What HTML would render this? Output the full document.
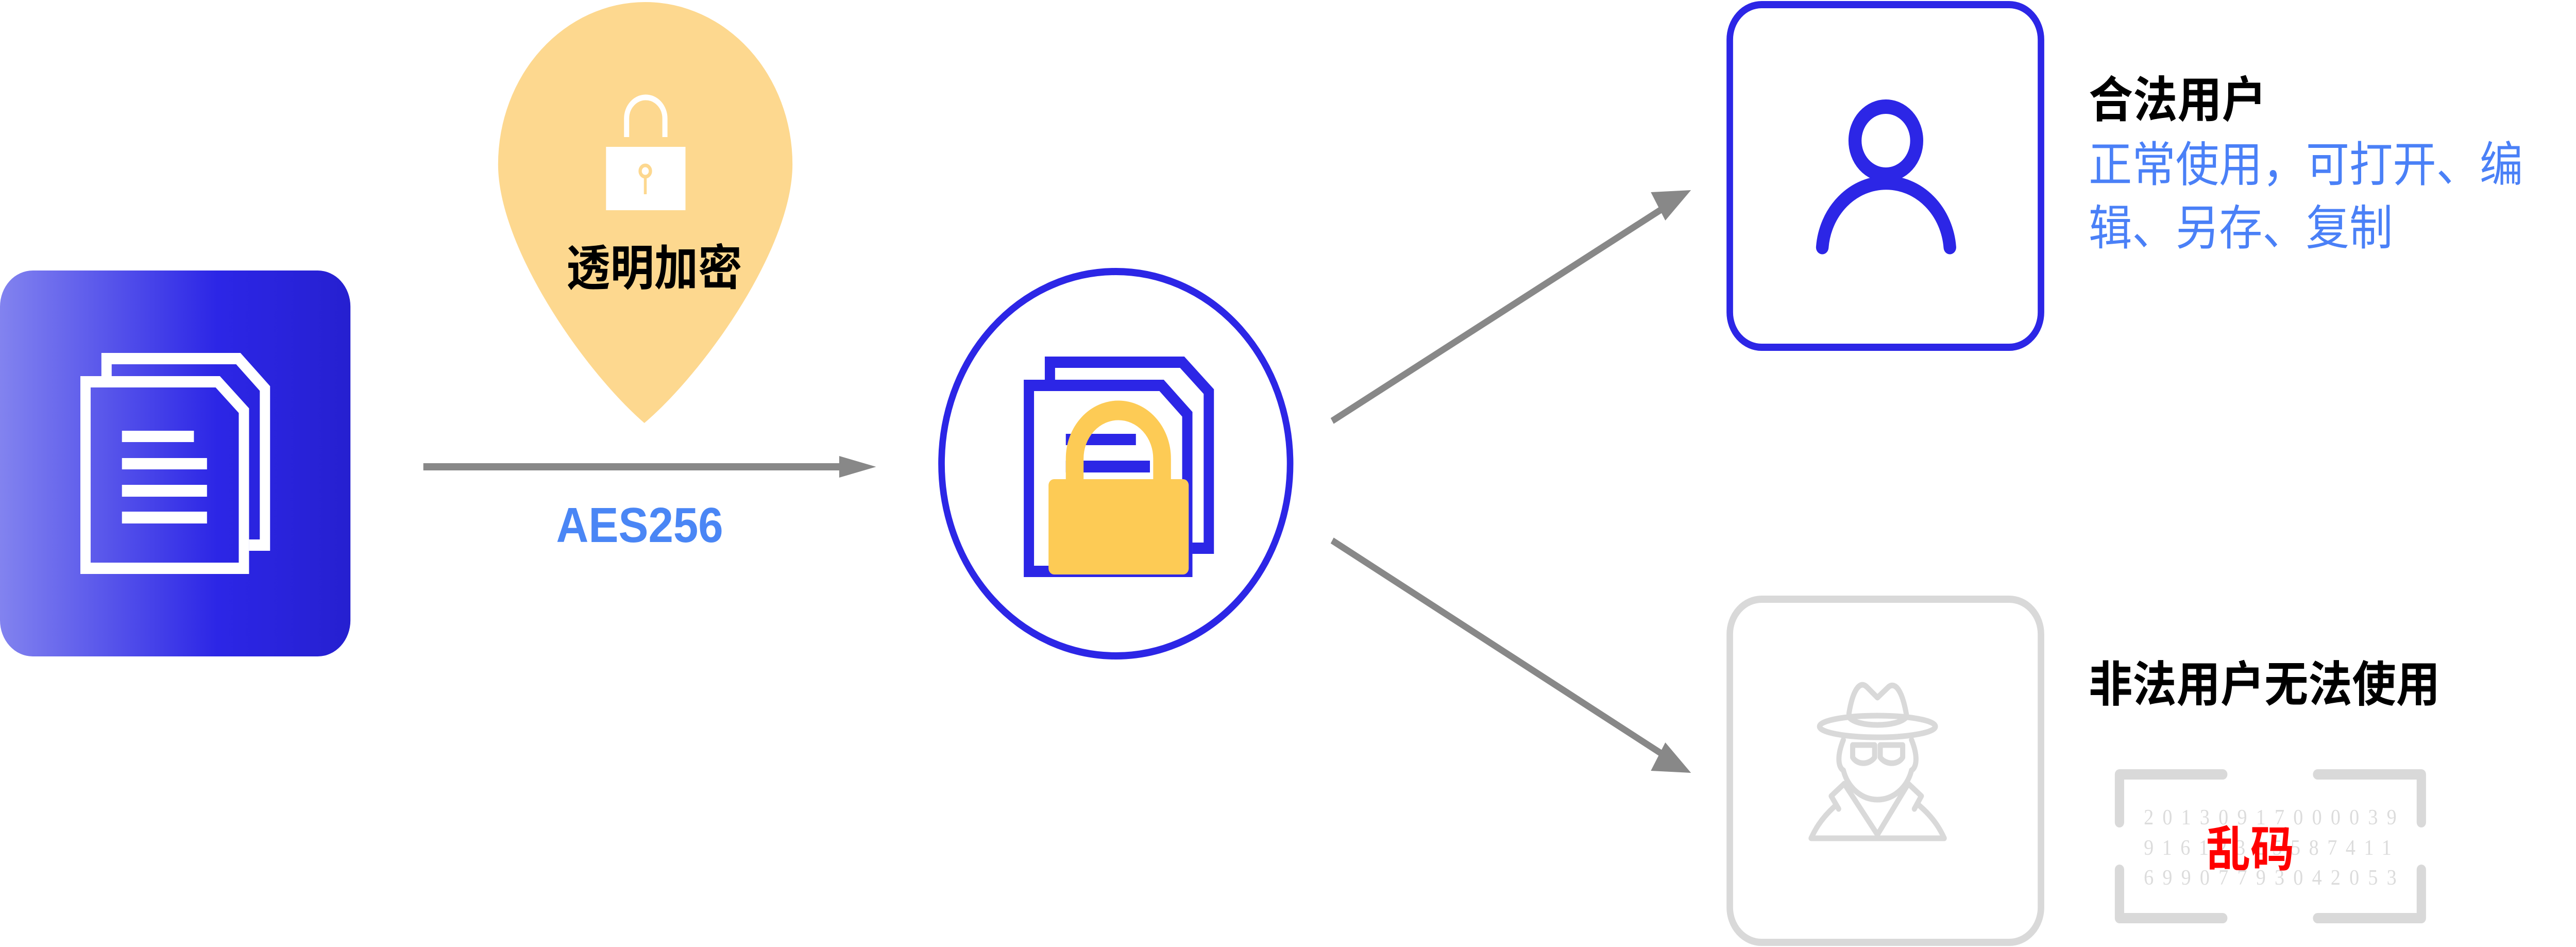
<!DOCTYPE html>
<html><head><meta charset="utf-8"><style>
html,body{margin:0;padding:0;background:#fff;width:100%;height:100%;overflow:hidden;}
svg{display:block;width:100vw;height:100vh;}
text{font-family:"Liberation Sans","Noto Sans CJK SC",sans-serif;}
</style></head><body>
<svg viewBox="0 0 5513 1838" preserveAspectRatio="none" xmlns="http://www.w3.org/2000/svg">
<defs>
<linearGradient id="g" x1="0" y1="0" x2="1" y2="0">
<stop offset="0" stop-color="#8283ef"/>
<stop offset="0.62" stop-color="#2c26e6"/>
<stop offset="1" stop-color="#2620d0"/>
</linearGradient>
</defs>

<rect x="0" y="525" width="750" height="749" rx="70" fill="url(#g)"/>
<g fill="none" stroke="#fff" stroke-width="22">
<path d="M228 730 V696 H510 L567 754 V1058 H533"/>
<path d="M183 741 H466 L522 797 V1103 H183 Z"/>
</g>
<g fill="#fff">
<rect x="261" y="836" width="154" height="22"/>
<rect x="261" y="889" width="182" height="22"/>
<rect x="261" y="941" width="182" height="23"/>
<rect x="261" y="993" width="182" height="23"/>
</g>

<path d="M1379 821 C1250 720 1066 480 1066 319 A315 315 0 0 1 1696 319 C1696 480 1510 720 1379 821 Z" fill="#fdd88f"/>
<rect x="1297" y="285" width="170" height="123" fill="#fff"/>
<path d="M1341 266 V230 A41 41 0 0 1 1423 230 V266" fill="none" stroke="#fff" stroke-width="11"/>
<circle cx="1381" cy="332" r="11" fill="none" stroke="#fdd88f" stroke-width="7"/>
<rect x="1378" y="342" width="6" height="35" fill="#fdd88f"/>
<text x="1400" y="553" font-size="94" font-weight="bold" text-anchor="middle" fill="#000">透明加密</text>

<line x1="906" y1="906" x2="1800" y2="906" stroke="#888" stroke-width="14"/>
<polygon points="1875,906 1796,885 1796,927" fill="#888"/>
<text x="1369" y="1052" font-size="96" font-weight="bold" text-anchor="middle" fill="#4a86f5">AES256</text>

<circle cx="2388" cy="900" r="373" fill="#fff" stroke="#2c26e6" stroke-width="14"/>
<g fill="none" stroke="#2c26e6" stroke-width="22">
<path d="M2247 737 V703 H2530 L2587 760 V1064 H2552"/>
<path d="M2202 748 H2486 L2541 804 V1109 H2202 Z"/>
</g>
<rect x="2281" y="842" width="150" height="22" fill="#2c26e6"/>
<rect x="2281" y="894" width="180" height="23" fill="#2c26e6"/>
<path d="M2300 935 V890 A93 93 0 0 1 2487 890 V935" fill="none" stroke="#fdcb55" stroke-width="38"/>
<rect x="2244" y="930" width="300" height="185" rx="12" fill="#fdcb55"/>

<line x1="2851" y1="817" x2="3570" y2="398" stroke="#888" stroke-width="13"/>
<polygon points="3619,369 3533,373 3564,428" fill="#888"/>
<line x1="2851" y1="1049" x2="3570" y2="1471" stroke="#888" stroke-width="13"/>
<polygon points="3619,1500 3564,1441 3533,1496" fill="#888"/>

<rect x="3702" y="9" width="666" height="665" rx="68" fill="#fff" stroke="#2c26e6" stroke-width="14"/>
<circle cx="4036" cy="273" r="66" fill="none" stroke="#2c26e6" stroke-width="28"/>
<path d="M3900 480 A137 137 0 0 1 4173 480" fill="none" stroke="#2c26e6" stroke-width="27" stroke-linecap="round"/>
<text x="4470" y="227" font-size="95" font-weight="bold" fill="#000">合法用户</text>
<text x="4470" y="352" font-size="93" fill="#4a80f7">正常使用，可打开、编</text>
<text x="4470" y="475" font-size="93" fill="#4a80f7">辑、另存、复制</text>

<rect x="3702" y="1163" width="666" height="666" rx="68" fill="#fff" stroke="#d9d9d9" stroke-width="14"/>
<g fill="none" stroke="#d9d9d9" stroke-width="11" stroke-linejoin="round" stroke-linecap="round">
<path d="M3957 1385 C3965 1340 3980 1320 3995 1333 L4018 1354 L4042 1333 C4058 1322 4072 1345 4080 1387"/>
<ellipse cx="4018" cy="1410" rx="124" ry="21"/>
<path d="M3957 1392 C3975 1412 4060 1412 4080 1392"/>
<path d="M3945 1436 C3930 1470 3935 1490 3945 1495 C3955 1530 3985 1552 4018 1552 C4051 1552 4081 1530 4091 1495 C4101 1490 4106 1470 4091 1436"/>
<path d="M3965 1446 H4012 V1470 C4000 1485 3975 1485 3965 1470 Z"/>
<path d="M4024 1446 H4072 V1470 C4062 1485 4036 1485 4024 1470 Z"/>
<path d="M3947 1521 L4018 1620 L4084 1521"/>
<path d="M3947 1521 L3919 1545 L3935 1570 M4084 1521 L4112 1545 L4097 1570"/>
<path d="M3929 1563 C3895 1590 3882 1615 3876 1627 H4161 C4155 1615 4142 1590 4107 1563"/>
</g>
<text x="4470" y="1361" font-size="94" font-weight="bold" fill="#000">非法用户无法使用</text>

<g fill="none" stroke="#d9d9d9" stroke-width="20" stroke-linecap="round" stroke-linejoin="round">
<path d="M4536 1596 V1503 H4757"/>
<path d="M4960 1503 H5182 V1596"/>
<path d="M4536 1688 V1782 H4757"/>
<path d="M4960 1782 H5182 V1688"/>
</g>
<text x="4588" y="1600" font-size="42" fill="#dcdcdc" textLength="541" lengthAdjust="spacing" style="font-family:'Liberation Serif',serif">20130917000039</text>
<text x="4588" y="1659" font-size="42" fill="#dcdcdc" textLength="530" lengthAdjust="spacing" style="font-family:'Liberation Serif',serif">91612325587411</text>
<text x="4588" y="1717" font-size="42" fill="#dcdcdc" textLength="541" lengthAdjust="spacing" style="font-family:'Liberation Serif',serif">69907793042053</text>
<text x="4722" y="1681" font-size="94" font-weight="bold" fill="#ff0000">乱码</text>
</svg>
</body></html>
